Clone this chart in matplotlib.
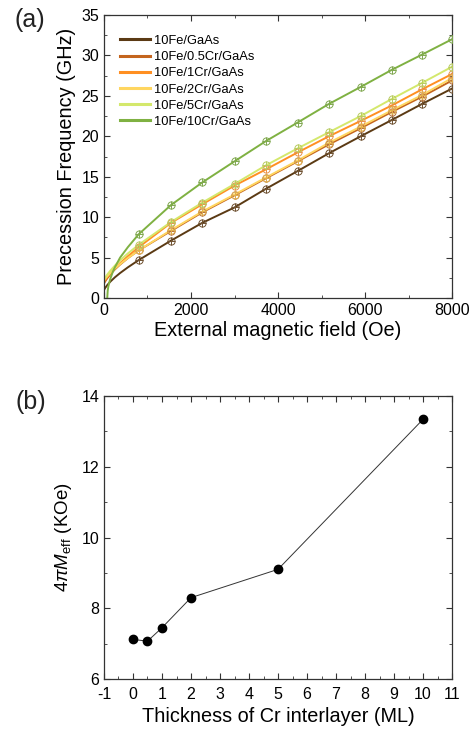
import matplotlib
matplotlib.use("Agg")
import matplotlib.pyplot as plt
from matplotlib.ticker import MultipleLocator

plt.rcParams["font.family"] = ["Liberation Sans", "DejaVu Sans"]
plt.rcParams["mathtext.fontset"] = "custom"
plt.rcParams["mathtext.rm"] = "Liberation Sans"
plt.rcParams["mathtext.it"] = "Liberation Sans:italic"
plt.rcParams["axes.unicode_minus"] = False

# measured field points (Oe)
field = [800, 1540, 2260, 3000, 3720, 4450, 5170, 5900, 6610, 7310, 8000]

labels = ["10Fe/GaAs", "10Fe/0.5Cr/GaAs", "10Fe/1Cr/GaAs",
          "10Fe/2Cr/GaAs", "10Fe/5Cr/GaAs", "10Fe/10Cr/GaAs"]
line_colors = ["#5b3a14", "#c4651e", "#ff8f22", "#ffd660", "#d4e86c", "#7fb142"]
mark_colors = ["#6e5030", "#b8733a", "#e8944a", "#e0b050", "#b8cc60", "#80a850"]

# precession frequency (GHz) at the measured fields
freq_fe = [4.7, 7.1, 9.3, 11.2, 13.5, 15.7, 17.9, 20.0, 22.0, 24.0, 25.9]
freq_05cr = [5.9, 8.3, 10.6, 12.7, 14.8, 16.9, 19.0, 21.0, 23.0, 24.9, 26.9]
freq_1cr = [6.3, 9.3, 11.6, 13.9, 15.9, 18.0, 20.0, 21.9, 23.8, 25.8, 27.7]
freq_2cr = [5.9, 8.4, 10.7, 12.8, 14.9, 17.0, 19.2, 21.2, 23.2, 25.1, 27.2]
freq_5cr = [6.6, 9.4, 11.8, 14.1, 16.4, 18.5, 20.5, 22.5, 24.6, 26.6, 28.6]
freq_10cr = [7.9, 11.5, 14.3, 16.9, 19.4, 21.7, 24.0, 26.1, 28.2, 30.1, 32.0]
freqs = [freq_fe, freq_05cr, freq_1cr, freq_2cr, freq_5cr, freq_10cr]

# low-field part of the fit curves (below the first measured point)
low_grid = [0, 30, 80, 150, 250, 370, 550]
low_field = [low_grid, low_grid, low_grid, low_grid, low_grid,
             [75, 85, 100, 140, 200, 250, 370, 550]]
low_freq = [[1.0, 1.27, 1.63, 2.05, 2.56, 3.09, 3.80],
            [1.8, 2.08, 2.48, 2.96, 3.54, 4.14, 4.94],
            [2.0, 2.25, 2.62, 3.08, 3.67, 4.31, 5.18],
            [2.2, 2.41, 2.73, 3.13, 3.64, 4.19, 4.95],
            [2.3, 2.56, 2.94, 3.41, 4.01, 4.66, 5.52],
            [0.0, 0.90, 1.43, 2.30, 3.20, 3.80, 5.00, 6.30]]

# effective magnetization vs Cr thickness
cr_thickness = [0, 0.5, 1, 2, 5, 10]
meff = [7.12, 7.07, 7.45, 8.30, 9.10, 13.34]

fig = plt.figure(figsize=(4.71, 7.31), dpi=100)
ax1 = fig.add_axes([0.2208, 0.5923, 0.7389, 0.3872])
ax2 = fig.add_axes([0.2208, 0.0711, 0.7389, 0.3872])

for i in range(len(labels)):
    ax1.plot(low_field[i] + field, low_freq[i] + freqs[i], color=line_colors[i],
             lw=1.4, label=labels[i], zorder=2 + i * 0.1)
    ax1.plot(field, freqs[i], ls="none", marker="o", ms=5.2, mfc="none",
             mec=mark_colors[i], mew=0.7, zorder=3)
    ax1.plot(field, freqs[i], ls="none", marker="+", ms=5.2,
             mec=mark_colors[i], mew=0.7, zorder=3)

ax1.set_xlim(0, 8000)
ax1.set_ylim(0, 35)
ax1.xaxis.set_major_locator(MultipleLocator(2000))
ax1.xaxis.set_minor_locator(MultipleLocator(1000))
ax1.yaxis.set_major_locator(MultipleLocator(5))
ax1.yaxis.set_minor_locator(MultipleLocator(2.5))
ax1.set_xlabel("External magnetic field (Oe)", fontsize=14.3, labelpad=2)
ax1.set_ylabel("Precession Frequency (GHz)", fontsize=14.3, labelpad=4)
ax1.tick_params(which="both", direction="in", right=True, top=True,
                labelsize=11.5, color="#333333")
ax1.tick_params(which="major", length=4)
ax1.tick_params(which="minor", length=2.5)
leg = ax1.legend(loc="upper left", bbox_to_anchor=(0.01, 0.975), fontsize=9.3,
                 frameon=False, handlelength=2.3, handletextpad=0.3,
                 labelspacing=0.32, borderaxespad=0.6)
for line in leg.get_lines():
    line.set_linewidth(2.2)

ax2.plot(cr_thickness, meff, color="#333333", lw=0.7, marker="o", ms=6,
         mfc="black", mec="black")
ax2.set_xlim(-1, 11)
ax2.set_ylim(6, 14)
ax2.xaxis.set_major_locator(MultipleLocator(1))
ax2.xaxis.set_minor_locator(MultipleLocator(0.5))
ax2.yaxis.set_major_locator(MultipleLocator(2))
ax2.yaxis.set_minor_locator(MultipleLocator(1))
ax2.set_xlabel("Thickness of Cr interlayer (ML)", fontsize=14.3, labelpad=3)
ax2.set_ylabel(r"$4\pi M_{\mathrm{eff}}$ (KOe)", fontsize=13.5, labelpad=5)
ax2.tick_params(which="both", direction="in", right=True, top=True,
                labelsize=11.5, color="#333333")
ax2.tick_params(axis="x", which="major", pad=6)
ax2.tick_params(which="major", length=4)
ax2.tick_params(which="minor", length=2.5)

for ax in (ax1, ax2):
    for s in ax.spines.values():
        s.set_linewidth(0.9)
        s.set_color("#333333")

fig.text(0.064, 0.972, "(a)", fontsize=18, ha="center", va="center",
         color="#222222", fontweight="light")
fig.text(0.066, 0.450, "(b)", fontsize=18, ha="center", va="center",
         color="#222222", fontweight="light")

fig.savefig("out.png", dpi=100)
